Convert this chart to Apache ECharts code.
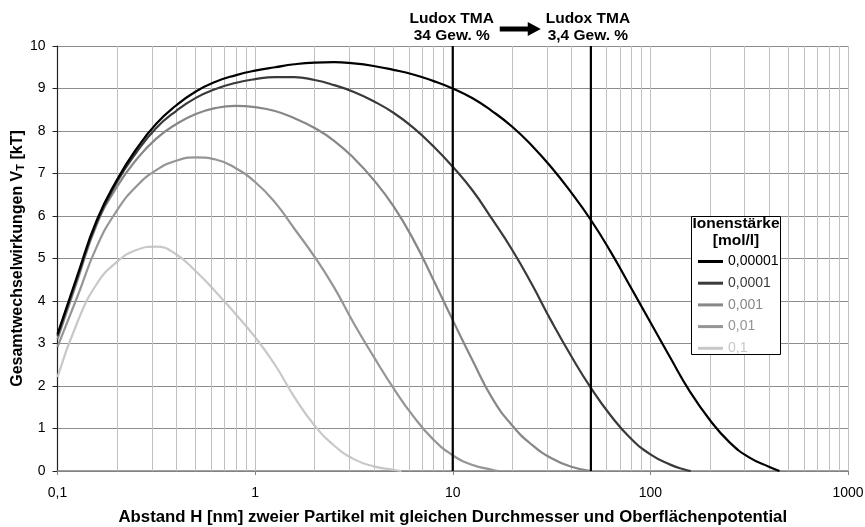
<!DOCTYPE html>
<html><head><meta charset="utf-8">
<script src="https://cdn.jsdelivr.net/npm/echarts@6/dist/echarts.min.js"></script>
<style>html,body{margin:0;padding:0;background:#fff}#c{width:865px;height:527px}</style>
</head><body><div id="c"></div>
<script>
// ---- data (distance H in nm, interaction energy in kT) ----
const seriesNames = ['0,00001', '0,0001', '0,001', '0,01', '0,1'];
const s1x = [0.1, 0.126, 0.158, 0.2, 0.251, 0.316, 0.398, 0.501, 0.631, 0.794, 1, 1.26, 1.58, 2, 2.51, 3.16, 3.98, 5.01, 6.31, 7.94, 10, 12.6, 15.8, 20, 25.1, 31.6, 39.8, 50.1, 63.1, 79.4, 100, 126, 158, 200, 251, 316, 398, 450];
const s1y = [3.22, 4.6, 5.9, 6.85, 7.58, 8.17, 8.6, 8.93, 9.16, 9.31, 9.42, 9.5, 9.57, 9.61, 9.62, 9.59, 9.53, 9.44, 9.33, 9.18, 9.0, 8.77, 8.47, 8.1, 7.66, 7.14, 6.55, 5.9, 5.15, 4.33, 3.5, 2.67, 1.88, 1.2, 0.68, 0.32, 0.1, 0];
const s2x = [0.1, 0.126, 0.158, 0.2, 0.251, 0.316, 0.398, 0.501, 0.631, 0.794, 1, 1.26, 1.58, 2, 2.51, 3.16, 3.98, 5.01, 6.31, 7.94, 10, 12.6, 15.8, 20, 25.1, 31.6, 39.8, 50.1, 63.1, 79.4, 100, 126, 150, 160];
const s2y = [3.18, 4.55, 5.85, 6.8, 7.5, 8.07, 8.47, 8.78, 8.99, 9.13, 9.22, 9.27, 9.27, 9.2, 9.08, 8.92, 8.7, 8.43, 8.08, 7.65, 7.16, 6.6, 5.93, 5.2, 4.4, 3.52, 2.7, 1.95, 1.3, 0.77, 0.39, 0.15, 0.03, 0];
const s3x = [0.1, 0.126, 0.158, 0.2, 0.251, 0.316, 0.398, 0.501, 0.631, 0.794, 1, 1.26, 1.58, 2, 2.51, 3.16, 3.98, 5.01, 6.31, 7.94, 10, 12.6, 15.8, 20, 25.1, 31.6, 39.8, 50];
const s3y = [3.1, 4.48, 5.8, 6.69, 7.33, 7.82, 8.16, 8.4, 8.54, 8.59, 8.56, 8.47, 8.3, 8.07, 7.77, 7.36, 6.85, 6.23, 5.45, 4.52, 3.55, 2.6, 1.72, 1.07, 0.62, 0.3, 0.1, 0];
const s4x = [0.1, 0.126, 0.158, 0.2, 0.251, 0.316, 0.398, 0.501, 0.631, 0.794, 1, 1.26, 1.58, 2, 2.51, 3.16, 3.98, 5.01, 6.31, 7.94, 10, 12.6, 15.8, 17];
const s4y = [2.92, 4.1, 5.28, 6.13, 6.7, 7.08, 7.3, 7.38, 7.33, 7.13, 6.8, 6.32, 5.7, 5.04, 4.32, 3.47, 2.69, 1.95, 1.29, 0.75, 0.37, 0.14, 0.03, 0];
const s5x = [0.1, 0.126, 0.158, 0.2, 0.251, 0.316, 0.398, 0.501, 0.631, 0.794, 1, 1.26, 1.58, 2, 2.51, 3.16, 3.98, 5.01, 5.5];
const s5y = [2.21, 3.5, 4.4, 4.92, 5.2, 5.28, 5.1, 4.7, 4.22, 3.7, 3.15, 2.5, 1.74, 1.07, 0.6, 0.28, 0.11, 0.03, 0];
const ludoxX = [10, 50];
const ludoxLabels = ['Ludox TMA\n34 Gew. %', 'Ludox TMA\n3,4 Gew. %'];
const legendTitle = 'Ionenstärke\n[mol/l]';
const xName = 'Abstand H [nm] zweier Partikel mit gleichen Durchmesser und Oberflächenpotential';
const yName = 'Gesamtwechselwirkungen V{sub|T} [kT]';

// ---- styling ----
const colors = ['#000000', '#3a3a3a', '#878787', '#959595', '#c8c8c8'];
const FONT = '"Liberation Sans", Arial, sans-serif';
const xs = [s1x, s2x, s3x, s4x, s5x];
const ys = [s1y, s2y, s3y, s4y, s5y];

// vertical grid positions (1..9 x 10^k) on the log axis
const gridVals = [];
for (let k = -1; k <= 2; k++) for (let m = 1; m <= 9; m++) { if (k === -1 && m === 1) continue; gridVals.push(+(m * Math.pow(10, k)).toPrecision(3)); }
gridVals.push(1000);

const chart = echarts.init(document.getElementById('c'), null, { renderer: 'canvas' });

const series = [
  {
    type: 'line', name: '_grid', data: [], silent: true, z: 1,
    markLine: {
      silent: true, symbol: ['none', 'none'], animation: false,
      label: { show: false },
      lineStyle: { color: '#c0c0c0', width: 1, type: 'solid' },
      data: gridVals.map(v => ({ xAxis: v }))
    }
  }
];
seriesNames.forEach((n, i) => {
  series.push({
    type: 'line', name: n, smooth: 0.5, showSymbol: false, symbol: 'none', z: 8 - i,
    lineStyle: { color: colors[i], width: 2.2 },
    itemStyle: { color: colors[i] },
    data: xs[i].map((x, j) => [x, ys[i][j]])
  });
});
ludoxX.forEach((v, i) => {
  series.push({
    type: 'line', name: '_ludox' + i, showSymbol: false, symbol: 'none', z: 10,
    lineStyle: { color: '#000', width: 2.2 },
    data: [[v, 0], [v, 10]]
  });
});

chart.setOption({
  animation: false,
  backgroundColor: '#fff',
  textStyle: { fontFamily: FONT },
  grid: { left: 57.5, right: 17, top: 46, bottom: 56, containLabel: false, outerBoundsMode: 'none' },
  xAxis: {
    type: 'log', logBase: 10, min: 0.1, max: 1000,
    name: xName, nameLocation: 'middle', nameGap: 38, nameMoveOverlap: false,
    nameTextStyle: { fontFamily: FONT, fontWeight: 'bold', fontSize: 16.8, color: '#000' },
    axisLine: { lineStyle: { color: '#808080', width: 1.5 } },
    axisTick: { show: true, length: 4, inside: false, lineStyle: { color: '#808080' } },
    axisLabel: { fontFamily: FONT, fontSize: 14, color: '#000', margin: 15,
      formatter: v => String(v).replace('.', ',') },
    splitLine: { show: false },
    minorTick: { show: false }, minorSplitLine: { show: false }
  },
  yAxis: {
    type: 'value', min: 0, max: 10, interval: 1,
    name: yName, nameLocation: 'middle', nameGap: 31, nameRotate: 90, nameMoveOverlap: false,
    nameTextStyle: { fontFamily: FONT, fontWeight: 'bold', fontSize: 16, color: '#000',
      rich: { sub: { fontFamily: FONT, fontWeight: 'bold', fontSize: 11, color: '#000', verticalAlign: 'bottom', padding: [7, 0, 0, 0] } } },
    axisLine: { show: true, lineStyle: { color: '#222', width: 1.2 } },
    axisTick: { show: true, length: 5, inside: false, lineStyle: { color: '#222' } },
    axisLabel: { fontFamily: FONT, fontSize: 14, color: '#000', margin: 12 },
    splitLine: { show: true, lineStyle: { color: '#8c8c8c', width: 1 } }
  },
  legend: {
    orient: 'vertical', left: 693, top: 249.5, itemWidth: 25, itemHeight: 3, itemGap: 7.7,
    icon: 'rect', z: 20,
    textStyle: { fontFamily: FONT, fontSize: 14 },
    data: seriesNames.map((n, i) => ({ name: n, textStyle: { color: colors[i] } }))
  },
  series: series
});

const p10 = chart.convertToPixel({ xAxisIndex: 0 }, ludoxX[0]);
const p50 = chart.convertToPixel({ xAxisIndex: 0 }, ludoxX[1]);
const ay = 29;
chart.setOption({
  graphic: [
    { type: 'text', x: p10 - 1, y: 10.5, z: 30,
      style: { text: ludoxLabels[0], font: 'bold 15.5px ' + FONT, fill: '#000', align: 'center', verticalAlign: 'top', lineHeight: 17 } },
    { type: 'text', x: p50 - 3, y: 10.5, z: 30,
      style: { text: ludoxLabels[1], font: 'bold 15.5px ' + FONT, fill: '#000', align: 'center', verticalAlign: 'top', lineHeight: 17 } },
    { type: 'polygon', z: 30,
      shape: { points: [[p10 + 47, ay - 2.4], [p10 + 75, ay - 2.4], [p10 + 75, ay - 7], [p10 + 88, ay], [p10 + 75, ay + 7], [p10 + 75, ay + 2.4], [p10 + 47, ay + 2.4]] },
      style: { fill: '#000' } },
    { type: 'rect', z: 15, shape: { x: 691.5, y: 216.5, width: 89, height: 138 },
      style: { fill: '#fff', stroke: '#000', lineWidth: 1 } },
    { type: 'text', z: 16, x: 736, y: 215.5,
      style: { text: legendTitle, font: 'bold 15.5px ' + FONT, fill: '#000', align: 'center', verticalAlign: 'top', lineHeight: 17 } }
  ]
});
</script>
</body></html>
